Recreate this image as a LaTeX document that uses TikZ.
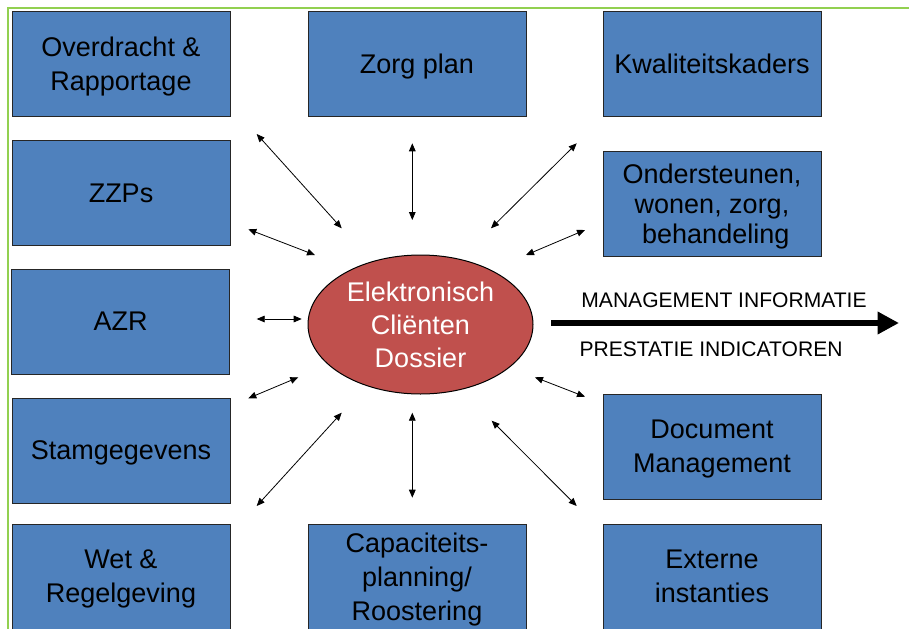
\documentclass[tikz,border=0pt]{standalone}
\usepackage{fontspec}
\setmainfont{Liberation Sans}
\usetikzlibrary{shapes.geometric,arrows.meta}
\definecolor{boxblue}{HTML}{4F81BD}
\definecolor{ecdred}{HTML}{C0504D}
\definecolor{framegreen}{HTML}{92D050}
\tikzset{
  infobox/.style={draw=black!85, line width=0.75pt, fill=boxblue, rectangle,
    minimum width=163.5pt, minimum height=78.75pt, inner sep=0pt, align=center,
    font=\fontsize{20.25pt}{25.5pt}\selectfont, text=black, text depth=0pt},
  link/.style={line width=0.6pt, {Triangle[length=6pt,width=5pt]}-{Triangle[length=6pt,width=5pt]}},
  bigarrow/.style={line width=5pt, -{Triangle[length=16pt,width=16pt]}},
  flowlabel/.style={font=\fontsize{15.8pt}{18pt}\selectfont, inner sep=0pt}
}
\begin{document}
\begin{tikzpicture}[x=0.75pt, y=-0.75pt]
\useasboundingbox (0,0) rectangle (909,628);
\clip (0,0) rectangle (909,628);
\fill[white] (0,0) rectangle (909,628);
% green frame
\coordinate (gtl) at (8,8);
\coordinate (gtr) at (912,8);
\coordinate (gbl) at (8,632);
\draw[framegreen, line width=2pt] (gtr) -- (gtl) -- (gbl);
% boxes
\node[infobox] (overdracht) at (121,64) {Overdracht \&\\Rapportage};
\node[infobox] (zorgplan) at (417,64) {Zorg plan};
\node[infobox] (kwaliteit) at (712,64) {Kwaliteitskaders};
\node[infobox] (zzps) at (121,193) {ZZPs};
\node[infobox, font=\fontsize{20.25pt}{22.6pt}\selectfont] (ondersteunen) at (712,203.5) {Ondersteunen,\\wonen, zorg,\\\ behandeling};
\node[infobox] (azr) at (120.5,321.5) {AZR};
\node[infobox] (stam) at (121,450.5) {Stamgegevens};
\node[infobox] (document) at (712,446.5) {Document\\Management};
\node[infobox] (wet) at (121,576.5) {Wet \&\\Regelgeving};
\node[infobox] (capaciteit) at (417,576.5) {Capaciteits-\\planning/\\Roostering};
\node[infobox] (extern) at (712,576.5) {Externe\\instanties};
% central ellipse
\node[ellipse, draw=black, line width=0.75pt, fill=ecdred, minimum width=168.75pt,
      minimum height=104.25pt, inner sep=0pt] (ecd) at (420.5,324.5) {};
\node[text=white, align=center, inner sep=0pt,
      font=\fontsize{20.25pt}{25pt}\selectfont] (ecdtext) at (420.5,325) {Elektronisch\\Cliënten\\Dossier};
% arrow end points
\coordinate (a1s) at (256.7,134);   \coordinate (a1e) at (341.7,228.3);
\coordinate (a2s) at (412.3,143.3); \coordinate (a2e) at (412.3,220);
\coordinate (a3s) at (576.7,143.3); \coordinate (a3e) at (491,228.3);
\coordinate (a4s) at (248.3,229.3); \coordinate (a4e) at (315,255);
\coordinate (a5s) at (585,230);     \coordinate (a5e) at (526,255);
\coordinate (a6s) at (256.7,319);   \coordinate (a6e) at (301.7,319);
\coordinate (a7s) at (248.3,398.3); \coordinate (a7e) at (298.3,377.3);
\coordinate (a8s) at (535,377.3);   \coordinate (a8e) at (585,396.7);
\coordinate (a9s) at (341.7,412.7); \coordinate (a9e) at (256.7,506);
\coordinate (a10s) at (412.3,412.7);\coordinate (a10e) at (412.3,497.7);
\coordinate (a11s) at (491.7,420.7);\coordinate (a11e) at (576.7,506);
\foreach \i in {1,...,11} {\draw[link] (a\i s) -- (a\i e);}
% management arrow
\coordinate (mstart) at (551,323);
\coordinate (mend) at (899,323);
\draw[bigarrow] (mstart) -- (mend);
\node[flowlabel] (mi) at (724,300.5) {MANAGEMENT INFORMATIE};
\node[flowlabel] (pi) at (711,349.5) {PRESTATIE INDICATOREN};
\end{tikzpicture}
\end{document}
